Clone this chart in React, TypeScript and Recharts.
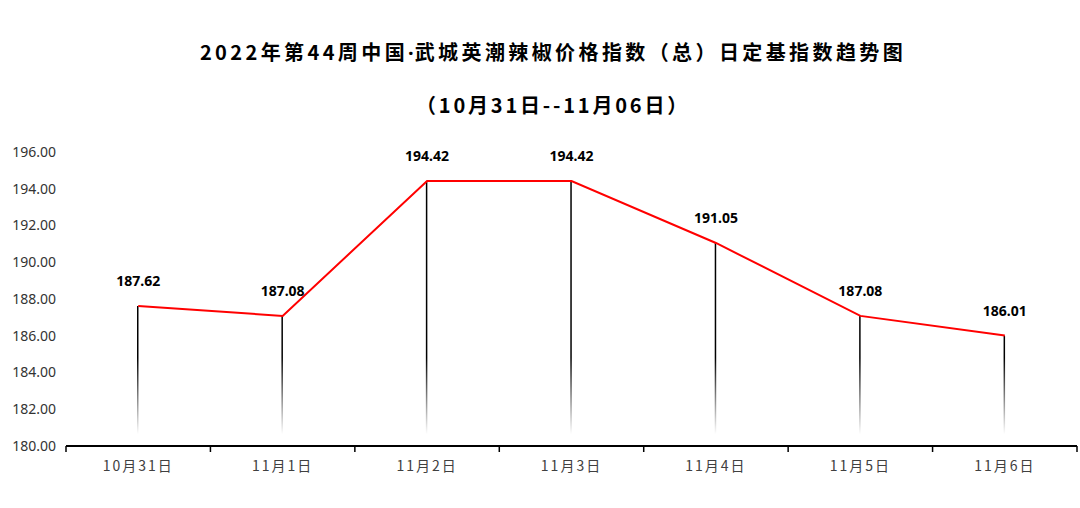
import React from 'react';
import { ComposedChart, Line, Bar, XAxis, YAxis, LabelList } from 'recharts';

const categories = ['10月31日', '11月1日', '11月2日', '11月3日', '11月4日', '11月5日', '11月6日'];
const values = [187.62, 187.08, 194.42, 194.42, 191.05, 187.08, 186.01];
const yTicks = [180, 182, 184, 186, 188, 190, 192, 194, 196];
const boundaryTicks = [0, 1, 2, 3, 4, 5, 6, 7];
const centerTicks = [0.5, 1.5, 2.5, 3.5, 4.5, 5.5, 6.5];

const data = categories.map((name, i) => ({ name, x: centerTicks[i], value: values[i] }));

const titleStyle: React.CSSProperties = {
  position: 'absolute',
  left: 0,
  width: 1106,
  textAlign: 'center',
  fontFamily: '"Noto Sans CJK SC", "Noto Sans", sans-serif',
  fontWeight: 700,
  fontSize: 20,
  color: '#000',
  whiteSpace: 'nowrap',
};

const renderLabel = (props: any) => {
  const { x, y, value } = props;
  return (
    <text
      x={x}
      y={y - 20}
      textAnchor="middle"
      fontFamily='"Noto Sans", sans-serif'
      fontWeight={700}
      fontSize={14}
      fill="#000"
    >
      {Number(value).toFixed(2)}
    </text>
  );
};

export default function App() {
  return (
    <div style={{ position: 'absolute', left: 0, top: 0, width: 1080, height: 508, background: '#fff' }}>
      <div style={{ ...titleStyle, top: 37, letterSpacing: 3.4 }}>
        2022年第44周中国<span style={{ fontFamily: '"Noto Sans", sans-serif', letterSpacing: 1 }}>·</span>武城英潮辣椒价格指数（总）日定基指数趋势图
      </div>
      <div style={{ ...titleStyle, top: 90, letterSpacing: 2.8 }}>（10月31日--11月06日）</div>
      <ComposedChart
        width={1080}
        height={508}
        data={data}
        margin={{ top: 152, right: 3, bottom: 24, left: 0 }}
        style={{ position: 'absolute', left: 0, top: 0 }}
      >
        <defs>
          <linearGradient id="dropFade" gradientUnits="userSpaceOnUse" x1="0" y1="152" x2="0" y2="446">
            <stop offset="0" stopColor="#000" stopOpacity={1} />
            <stop offset="0.7" stopColor="#000" stopOpacity={1} />
            <stop offset="0.96" stopColor="#000" stopOpacity={0} />
            <stop offset="1" stopColor="#000" stopOpacity={0} />
          </linearGradient>
        </defs>
        <XAxis
          xAxisId="a0"
          type="number"
          dataKey="x"
          domain={[0, 7]}
          ticks={boundaryTicks}
          interval={0}
          height={8}
          tickFormatter={() => ''}
          tickSize={6}
          axisLine={{ stroke: '#000', strokeWidth: 2 }}
          tickLine={{ stroke: '#000', strokeWidth: 1.5 }}
        />
        <XAxis
          xAxisId="b1"
          type="number"
          dataKey="x"
          domain={[0, 7]}
          ticks={centerTicks}
          interval={0}
          height={30}
          axisLine={false}
          tickLine={false}
          tickSize={0}
          tickMargin={7}
          tickFormatter={(v: number) => categories[Math.round(v - 0.5)]}
          tick={{ fill: '#404040', fontSize: 14, fontFamily: '"Noto Sans CJK SC", "Noto Sans", sans-serif', letterSpacing: 2 }}
        />
        <YAxis
          type="number"
          domain={[180, 196]}
          ticks={yTicks}
          interval={0}
          width={66}
          axisLine={false}
          tickLine={false}
          tickSize={0}
          tickMargin={10}
          tickFormatter={(v: number) => v.toFixed(2)}
          tick={{ fill: '#333', fontSize: 14, fontFamily: '"Noto Sans", sans-serif' }}
        />
        <Bar xAxisId="a0" dataKey="value" barSize={1.5} fill="url(#dropFade)" isAnimationActive={false} />
        <Line
          xAxisId="a0"
          type="linear"
          dataKey="value"
          stroke="#ff0000"
          strokeWidth={2}
          dot={false}
          activeDot={false}
          isAnimationActive={false}
        >
          <LabelList dataKey="value" content={renderLabel} />
        </Line>
      </ComposedChart>
    </div>
  );
}
